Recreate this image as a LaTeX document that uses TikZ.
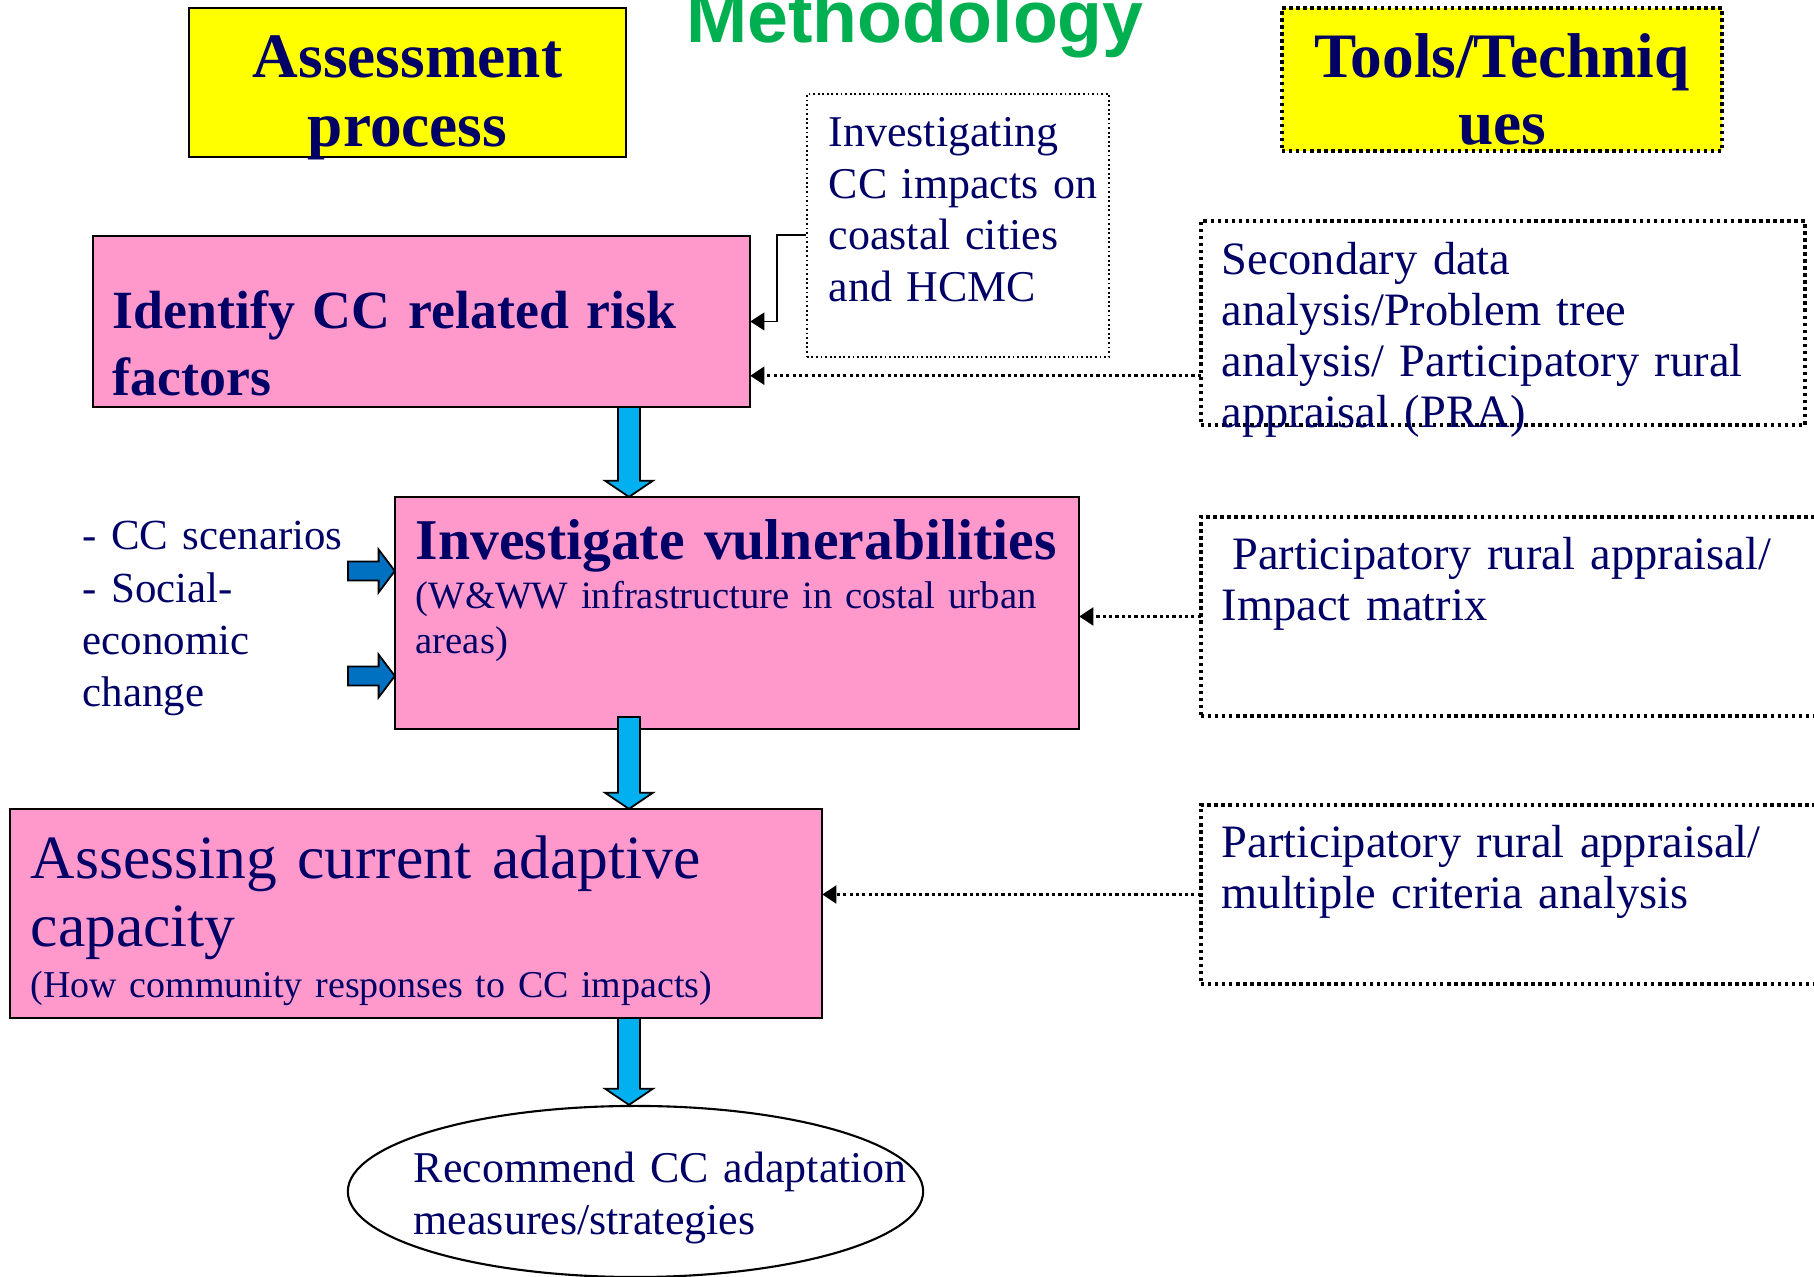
\documentclass[tikz,border=0pt]{standalone}
\usepackage{fontspec}
\setmainfont{Liberation Serif}
\newfontfamily\headsans{Liberation Sans}
\usetikzlibrary{arrows.meta,calc,shapes.geometric}

\definecolor{navytext}{RGB}{0,0,102}
\definecolor{boxpink}{RGB}{255,153,204}
\definecolor{headyellow}{RGB}{255,255,0}
\definecolor{arrowcyan}{RGB}{0,176,240}
\definecolor{arrowblue}{RGB}{0,112,192}
\definecolor{titlegreen}{RGB}{0,176,80}

\tikzset{
  pinkbox/.style={draw=black, fill=boxpink, line width=0.6pt, inner sep=0pt, outer sep=0pt},
  toolbox/.style={draw=black, line width=1pt, dash pattern=on 1pt off 1pt, inner sep=0pt, outer sep=0pt},
  txt/.style={text=navytext, inner sep=0pt, anchor=base west, align=left, text width=8cm},
  bodyfont/.style={font=\fontsize{12.5}{14.6}\selectfont},
  conn/.style={line width=0.5pt, -{Triangle[length=4pt,width=5pt]}},
  dotconn/.style={line width=0.9pt, dash pattern=on 0.9pt off 0.9pt, -{Triangle[length=4pt,width=5pt]}},
  cyanarrow/.style={draw=black, fill=arrowcyan, line width=0.5pt},
  bluearrow/.style={draw=black, fill=arrowblue, line width=0.5pt},
}

% block arrow from #2 to #3, drawn with style #1
\def\shaftw{3.1pt}\def\headw{6.8pt}\def\headl{4.6pt}
\newcommand{\blockarrow}[3]{%
  \path (#2) coordinate (ba) (#3) coordinate (bb);
  \path ($(bb)!\headl!(ba)$) coordinate (hb);
  \draw[#1] ($(ba)!\shaftw!-90:(bb)$) -- ($(hb)!\shaftw!90:(ba)$) -- ($(hb)!\headw!90:(ba)$) -- (bb)
    -- ($(hb)!\headw!-90:(ba)$) -- ($(hb)!\shaftw!-90:(ba)$) -- ($(ba)!\shaftw!90:(bb)$) -- cycle;}

\begin{document}
\begin{tikzpicture}[x=0.01cm, y=-0.01cm]
    \useasboundingbox (0,0) rectangle (1814,1277);
    \clip (0,0) rectangle (1814,1277);

    % column heads
    \node[fill=headyellow, draw=black, line width=0.7pt, minimum width=4.37cm, minimum height=1.49cm, inner sep=0pt] (headproc) at (407.5,82.5) {};
    \node[fill=headyellow, draw=black, line width=1pt, dash pattern=on 1pt off 1pt, minimum width=4.4cm, minimum height=1.43cm, inner sep=0pt] (headtools) at (1502,79.5) {};
    \node[anchor=base, inner sep=0pt, text=titlegreen, font=\headsans\bfseries\fontsize{20.9}{24}\selectfont] (title) at (915,43) {Methodology};
    \node[anchor=base, inner sep=0pt, text=navytext, align=center, text width=4.3cm, font=\bfseries\fontsize{18}{19.6}\selectfont] (headproctxt) at (407.5,78) {Assessment\\process};
    \node[anchor=base, inner sep=0pt, text=navytext, align=center, text width=4.3cm, font=\bfseries\fontsize{18}{19}\selectfont] (headtoolstxt) at (1502,78) {Tools/Techniq\\ues};

    % process boxes
    \node[draw=black, line width=0.4pt, dash pattern=on 0.5pt off 0.8pt, minimum width=3.02cm, minimum height=2.63cm, inner sep=0pt] (impactsrc) at (958,225.5) {};
    \node[pinkbox, minimum width=6.57cm, minimum height=1.71cm] (ident) at (421.5,321.5) {};
    \node[pinkbox, minimum width=6.84cm, minimum height=2.32cm] (vul) at (737,613) {};
    \node[pinkbox, minimum width=8.12cm, minimum height=2.09cm] (assess) at (416,913.5) {};
    \node[draw=black, line width=0.6pt, ellipse, minimum width=5.75cm, minimum height=1.71cm, inner sep=0pt] (recommend) at (635.5,1191.5) {};

    % tool boxes
    \node[toolbox, minimum width=6.04cm, minimum height=2.04cm] (toolsA) at (1503,323) {};
    \node[toolbox, minimum width=6.29cm, minimum height=1.99cm] (toolsB) at (1515.5,616.5) {};
    \node[toolbox, minimum width=6.29cm, minimum height=1.79cm] (toolsC) at (1515.5,894.5) {};

    % texts
    \node[txt, bodyfont] (impactsrctxt) at (828,147) {Investigating\\CC impacts on\\coastal cities\\and HCMC};
    \node[txt, font=\bfseries\fontsize{15.3}{19}\selectfont] (identtxt) at (112,329) {Identify CC related risk\\factors};
    \node[txt, font=\bfseries\fontsize{16.4}{19}\selectfont] (vultxt) at (415,560) {Investigate vulnerabilities};
    \node[txt, font=\fontsize{11}{12.6}\selectfont] (vulsub) at (415,609) {(W\&WW infrastructure in costal urban\\areas)};
    \node[txt, font=\fontsize{12.2}{14.8}\selectfont] (drivers) at (82,550) {- CC scenarios\\- Social-\\economic\\change};
    \node[txt, font=\fontsize{17.5}{19.3}\selectfont] (assesstxt) at (30,879) {Assessing current adaptive\\capacity};
    \node[txt, font=\fontsize{10.8}{12.2}\selectfont] (assesssub) at (30,998) {(How community responses to CC impacts)};
    \node[txt, bodyfont] (recommendtxt) at (413,1183) {Recommend CC adaptation\\measures/strategies};
    \node[txt, font=\fontsize{13.2}{14.5}\selectfont] (toolsAtxt) at (1221,275) {Secondary data\\analysis/Problem tree\\analysis/ Participatory rural\\appraisal (PRA)};
    \node[txt, font=\fontsize{13.2}{14.5}\selectfont] (toolsBtxt) at (1221,570) {\hspace*{3pt}Participatory rural appraisal/\\Impact matrix};
    \node[txt, font=\fontsize{13.2}{14.5}\selectfont] (toolsCtxt) at (1221,858) {Participatory rural appraisal/\\multiple criteria analysis};

    % big arrows down the process
    \coordinate (spine) at (629,0);
    \path (vul.south -| spine) ++(0,-12) coordinate (vulout);
    \blockarrow{cyanarrow}{ident.south -| spine}{vul.north -| spine}
    \blockarrow{cyanarrow}{vulout}{assess.north -| spine}
    \blockarrow{cyanarrow}{assess.south -| spine}{recommend.north -| spine}

    % inputs to vulnerabilities
    \def\shaftw{2.7pt}\def\headw{6.1pt}
    \coordinate (in1) at (348,571);
    \coordinate (in2) at (348,676);
    \blockarrow{bluearrow}{in1}{in1 -| vul.west}
    \blockarrow{bluearrow}{in2}{in2 -| vul.west}

    % connectors
    \draw[conn] ([yshift=-2.7pt]impactsrc.west) -- ++(-29,0) |- (ident.east); % elbow
    \draw[dotconn] ([yshift=-15pt]toolsA.west) coordinate (ta) -- (ta -| ident.east);
    \draw[dotconn] (toolsB.west) -- (toolsB.west -| vul.east);
    \draw[dotconn] (toolsC.west) -- (toolsC.west -| assess.east);
\end{tikzpicture}
\end{document}
